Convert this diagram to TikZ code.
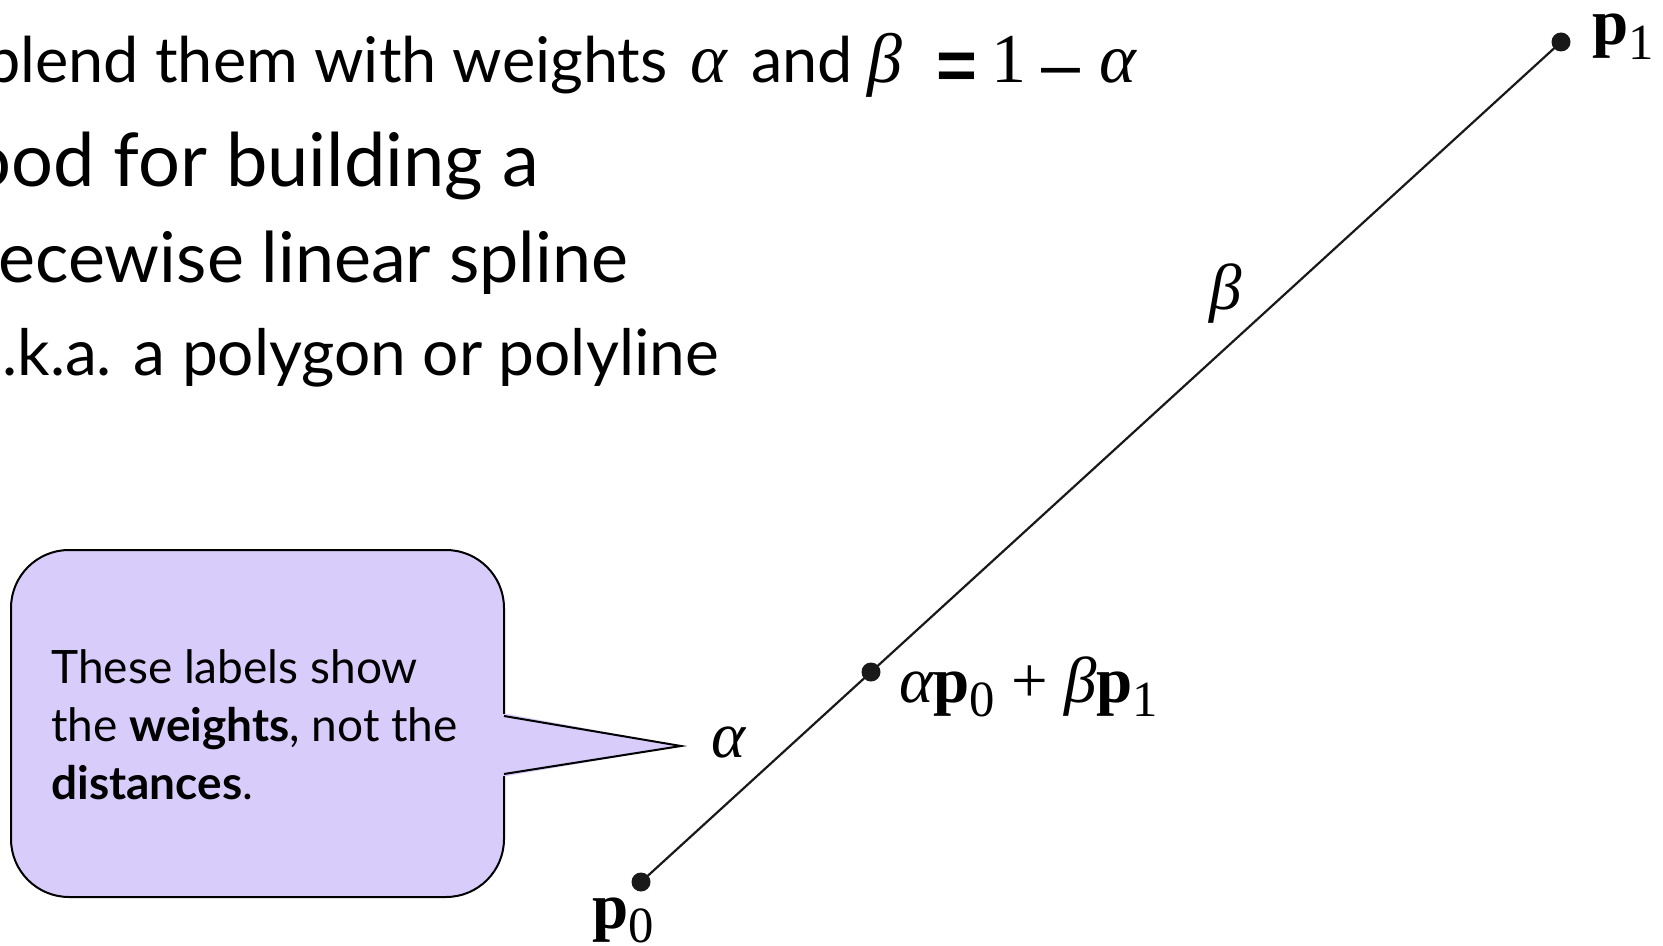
\documentclass[tikz,border=0pt]{standalone}
\usepackage{fontspec}
\setmainfont{Lato}
\newfontfamily\tms{Liberation Serif}
\newfontfamily\arial{Liberation Sans}
\definecolor{calloutfill}{RGB}{216,204,250}
\definecolor{ink}{RGB}{25,25,25}
\newcommand{\gk}[1]{{\tms\itshape #1}}
\newcommand{\bp}{{\tms\bfseries p}}
\newcommand{\lsub}[1]{\raisebox{-0.22em}{\scalebox{0.78}{\tms #1}}}
\begin{document}
\begin{tikzpicture}[x=0.5pt,y=-0.5pt,
  dot/.style={circle,fill=ink,draw=none,inner sep=0pt,minimum size=9.5pt},
  seg/.style={draw=ink,line width=1.1pt},
  bullettext/.style={anchor=base west,inner sep=0pt,text=black},
  headtext/.style={bullettext,font=\fontsize{31.5}{38}\selectfont},
  headmath/.style={bullettext,font=\tms\fontsize{35}{40}\selectfont},
  headsym/.style={bullettext,font=\arial\fontsize{35}{40}\selectfont},
  mathlabel/.style={anchor=base west,inner sep=0pt,font=\tms\fontsize{32.5}{36}\selectfont},
  calloutbox/.style={draw=black,line width=1pt,fill=calloutfill},
  calloutedge/.style={draw=black,line width=1pt,line join=miter}]
\useasboundingbox (0,0) rectangle (1663,946);
\clip (0,0) rectangle (1663,946);

% bullet text, first line
\node[headtext] (t1) at (-15,83) {blend them with weights};
\node[headmath] (t1a) at (690,83) {\itshape α};
\node[headtext] (t1b) at (751,83) {and};
\node[headmath] (t1c) at (867,83) {\itshape β};
\node[headsym] (t1d) at (936,83) {\raisebox{-3.5pt}{\bfseries =}};
\node[headmath] (t1e) at (991,83) {1};
\node[headsym] (t1f) at (1041,83) {\raisebox{-3pt}{–}};
\node[headmath] (t1g) at (1099,83) {\itshape α};
% further lines
\node[bullettext,font=\fontsize{37}{44}\selectfont] (t2) at (-31,187) {ood for building a};
\node[bullettext,font=\fontsize{35}{42}\selectfont] (t3) at (-2,283) {ecewise linear spline};
\node[bullettext,font=\fontsize{32}{38}\selectfont] (t4) at (2,375) {.k.a. a polygon or polyline};

% callout: rounded box, pointer fill, pointer edges
\draw[calloutbox,rounded corners=29pt] (11,550) rectangle (504,897);
\fill[calloutfill] (499,714) -- (507,714) -- (681,746) -- (507,776) -- (499,776) -- cycle;
\coordinate (ptip) at (681,746);
\coordinate (pa) at (504,716);
\coordinate (pb) at (504,774);
\draw[calloutedge] (pa) -- (ptip) -- (pb);
\node[anchor=base west,inner sep=0pt,align=left,font=\fontsize{23}{29}\selectfont] (note) at (51,799)
  {These labels show\\ the \textbf{weights}, not the\\ \textbf{distances}.};

% segment and points
\node[dot] (p0) at (641,882) {};
\node[dot] (p1) at (1561,42) {};
\node[dot] (pm) at (871,672) {};
\draw[seg] (p0.center) -- (p1.center);

\node[mathlabel] (lp0) at (592,928) {\bp\lsub{0}};
\node[mathlabel] (lp1) at (1592,45) {\bp\lsub{1}};
\node[mathlabel] (lpm) at (899,702) {\gk{α}\bp\lsub{0} + \gk{β}\bp\lsub{1}};
\node[mathlabel] (la) at (711,757) {\gk{α}};
\node[mathlabel] (lb) at (1209,310) {\gk{β}};
\end{tikzpicture}
\end{document}
